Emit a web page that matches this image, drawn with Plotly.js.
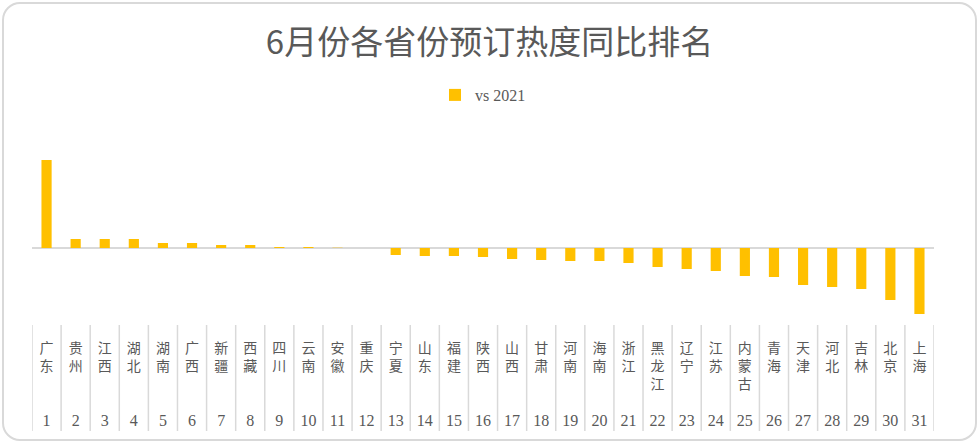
<!DOCTYPE html>
<html>
<head>
<meta charset="utf-8">
<script src="https://cdn.plot.ly/plotly-3.0.1.min.js"></script>
<style>
html,body{margin:0;padding:0;background:#fff;}
#wrap{position:relative;width:979px;height:443px;}
#chart{position:absolute;left:0;top:0;width:979px;height:443px;}
#frame{position:absolute;left:2px;top:2px;width:971px;height:435px;border:2px solid #d9d9d9;border-radius:18px;pointer-events:none;}
</style>
</head>
<body>
<div id="wrap"><div id="chart"></div><div id="frame"></div></div>
<script>
const provinces = ["广东","贵州","江西","湖北","湖南","广西","新疆","西藏","四川","云南","安徽","重庆","宁夏","山东","福建","陕西","山西","甘肃","河南","海南","浙江","黑龙江","辽宁","江苏","内蒙古","青海","天津","河北","吉林","北京","上海"];
const ranks = [1,2,3,4,5,6,7,8,9,10,11,12,13,14,15,16,17,18,19,20,21,22,23,24,25,26,27,28,29,30,31];
const values = [88,9,9,9,5,5,3,3,1,1,0.3,0,-7,-8,-8,-9,-11,-12,-13,-13,-15,-19,-21,-23,-28,-29,-37,-39,-41,-52,-66];
const seriesName = "vs 2021";

const tickText = provinces.map((p, i) => {
  const chars = p.split("");
  while (chars.length < 4) chars.push(" ");
  return chars.join("<br>") + "<br><span style=\"font-size:16px\">" + ranks[i] + "</span>";
});
const xs = provinces.map((p, i) => i);

// plot area geometry (px)
const plotTop = 140, plotBottom = 338, zeroY = 248;
const H = 443;
const ph = plotBottom - plotTop;
const toPaper = py => (plotBottom - py) / ph;

const shapes = [];
for (let i = 0; i <= provinces.length; i++) {
  shapes.push({type:"line", xref:"x", yref:"paper", x0:i-0.5, x1:i-0.5, y0:toPaper(325), y1:toPaper(431),
    line:{color:"#d9d9d9", width:1.5}});
}

const data = [{
  type:"bar", x:xs, y:values, name:seriesName, marker:{color:"#FFC000"},
  showlegend:true, hoverinfo:"skip"
}];

const layout = {
  width:979, height:H,
  margin:{l:32, r:45, t:plotTop, b:H-plotBottom},
  paper_bgcolor:"#fff", plot_bgcolor:"#fff",
  bargap:0.65,
  title:{text:"6月份各省份预订热度同比排名", x:0.5, xanchor:"center", y:1-42/H, yanchor:"middle", yref:"container",
    font:{family:"Noto Sans CJK SC", size:33, color:"#595959"}},
  showlegend:true,
  legend:{orientation:"h", x:0.5, xanchor:"center", xref:"paper", y:1-95/H, yref:"container", yanchor:"middle",
    font:{family:"Liberation Serif, Noto Sans CJK SC", size:16, color:"#595959"}, itemwidth:30},
  xaxis:{type:"linear", range:[-0.5, provinces.length-0.5], tickmode:"array", tickvals:xs, ticktext:tickText,
    showgrid:false, zeroline:false, showline:false, ticks:"", fixedrange:true,
    tickfont:{family:"Liberation Serif, Noto Sans CJK SC", size:14, color:"#595959"}},
  yaxis:{range:[-(plotBottom-zeroY), zeroY-plotTop], showticklabels:false, showgrid:false, zeroline:true, zerolinecolor:"#d9d9d9", zerolinewidth:2, showline:false, ticks:""},
  shapes:shapes
};
Plotly.newPlot("chart", data, layout, {displayModeBar:false, staticPlot:true});
</script>
</body>
</html>
